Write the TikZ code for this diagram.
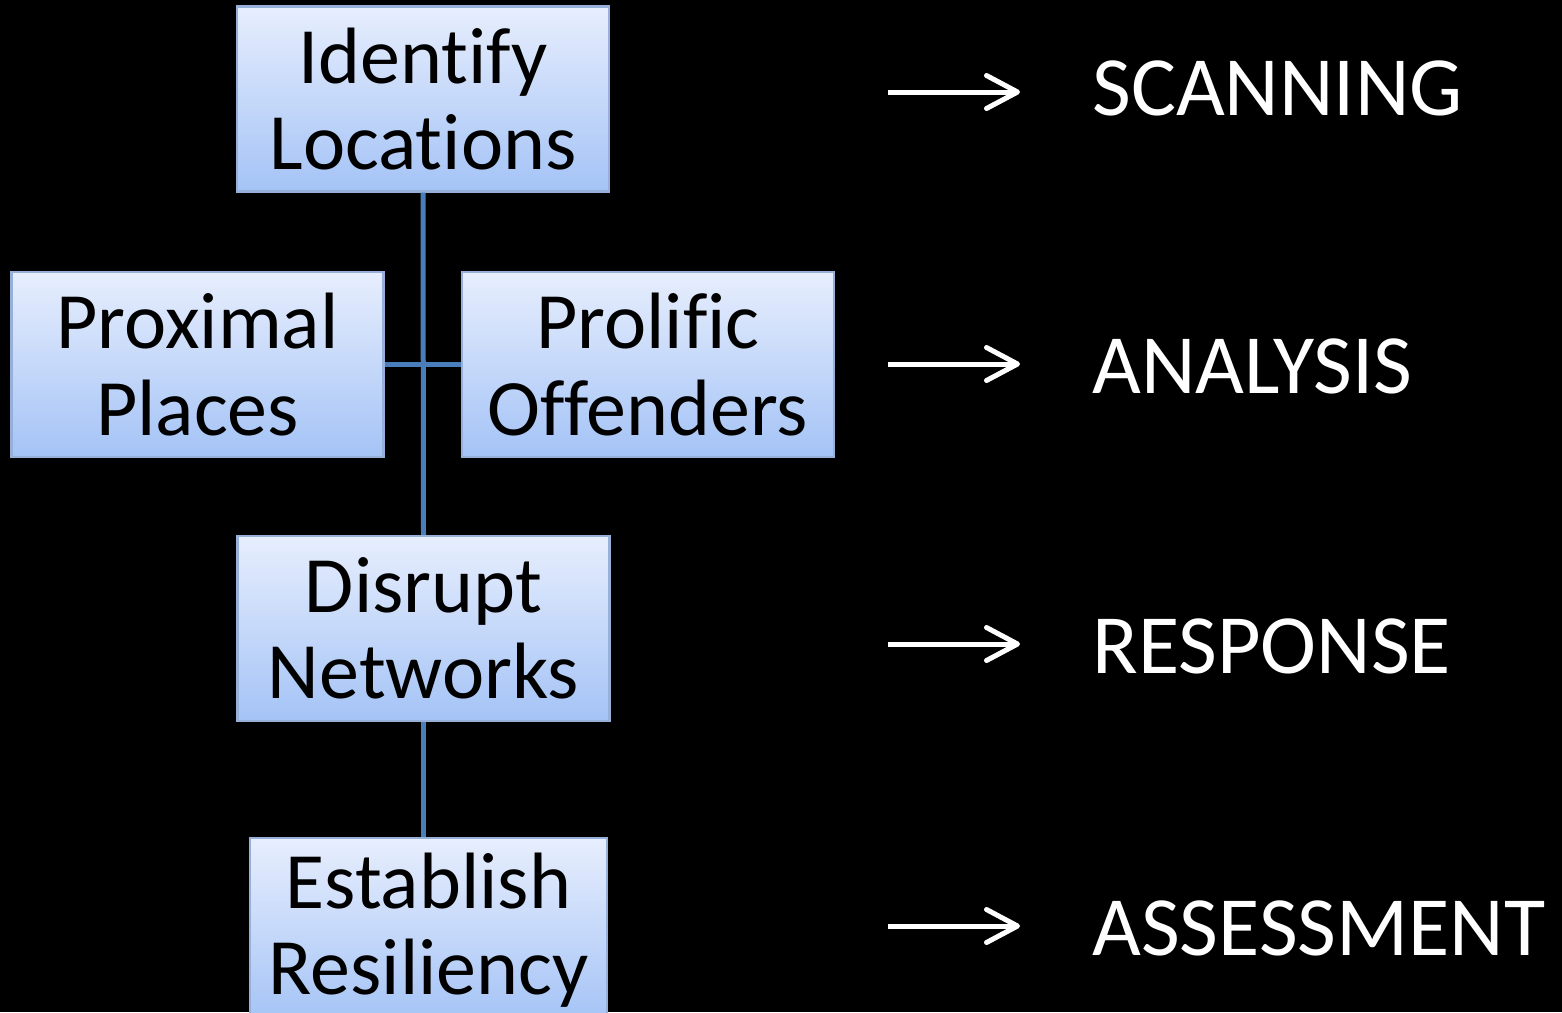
\documentclass[tikz,border=0pt]{standalone}
\usepackage{fontspec}
\setmainfont[Ligatures=NoCommon]{Carlito}
\usetikzlibrary{arrows.meta}

\definecolor{boxtop}{RGB}{231,238,253}
\definecolor{boxbottom}{RGB}{164,195,246}
\definecolor{boxedge}{RGB}{150,176,218}
\definecolor{linkblue}{RGB}{74,126,187}

\tikzset{
	stepbox/.style={rectangle, draw=boxedge, line width=1.2pt, top color=boxtop, bottom color=boxbottom,
		minimum width=7.44cm, minimum height=3.7cm, inner sep=0pt, align=center,
		font=\fontsize{45.5}{49}\selectfont},
	link/.style={draw=linkblue, line width=0.1cm},
	phase/.style={anchor=west, inner sep=0pt, text=white, font=\fontsize{48}{50}\selectfont},
	phasearrow/.style={draw=white, line width=0.1cm, -{Straight Barb[round, length=0.62cm, width=0.66cm]}, shorten >=1.44cm}
}

\begin{document}
\begin{tikzpicture}[x=0.02cm, y=-0.02cm]
		\fill[black] (0,0) rectangle (1562,1012);
		\useasboundingbox (0,0) rectangle (1562,1012);
		\clip (0,0) rectangle (1562,1012);
		
		% process boxes
		\node (loc) at (423,99) [stepbox] {Identify\\Locations};
		\node (prox) at (197.5,364.5) [stepbox] {Proximal\\Places};
		\node (prol) at (648,364.5) [stepbox] {Prolific\\Offenders};
		\node (net) at (423.5,628.5) [stepbox] {Disrupt\\Networks};
		\node (res) at (428.5,930.5) [stepbox, minimum width=7.14cm] {Establish\\Resiliency};
		
		\draw[link] (loc.south) to (net.north);
		\draw[link] (net.south) to (net.south |- res.north);
		\draw[link] (prox.east) to (prol.west);
		
		% SARA phases
		\node (scan) at (1092,88) [phase] {SCANNING};
		\node (anal) at (1092,366) [phase] {ANALYSIS};
		\node (resp) at (1092,646) [phase] {RESPONSE};
		\node (asse) at (1092,928) [phase] {ASSESSMENT};
		
		\coordinate (s1) at (888,92);
		\coordinate (s2) at (888,364);
		\coordinate (s3) at (888,644);
		\coordinate (s4) at (888,926);
		\draw[phasearrow] (s1) to (s1 -| scan.west);
		\draw[phasearrow] (s2) to (s2 -| anal.west);
		\draw[phasearrow] (s3) to (s3 -| resp.west);
		\draw[phasearrow] (s4) to (s4 -| asse.west);
		
	\end{tikzpicture}
\end{document}
